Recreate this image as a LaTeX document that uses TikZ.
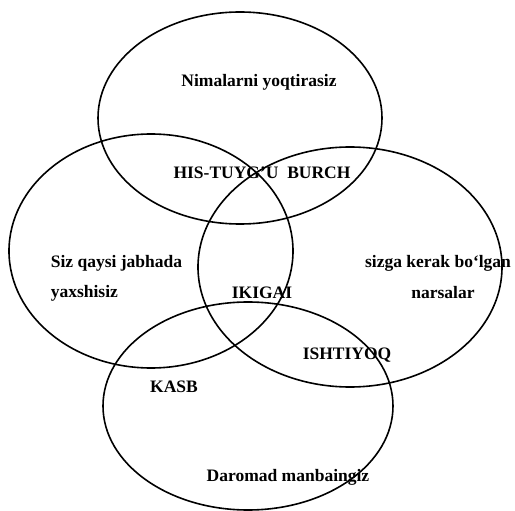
\documentclass[tikz,border=0pt]{standalone}
\usepackage{fontspec}
\setmainfont{Liberation Serif}
\begin{document}
\begin{tikzpicture}[x=1pt, y=-1pt, line width=1.6pt]
\tikzset{lbl/.style={font=\fontsize{17.5}{20}\selectfont\bfseries, inner sep=0pt}}
\useasboundingbox (0,0) rectangle (515,511);
% Centros de las elipses
\coordinate (T) at (240,118);
\coordinate (L) at (151,251);
\coordinate (R) at (350,267);
\coordinate (B) at (248,406);

% Elipses
\draw (T) ellipse [x radius=142, y radius=106];
\draw (L) ellipse [x radius=142, y radius=117];
\draw (R) ellipse [x radius=152, y radius=120];
\draw (B) ellipse [x radius=145, y radius=104];

% Etiquetas
\node[lbl] (yoq) at (259,82) {Nimalarni yoqtirasiz};
\node[lbl] (his) at (262,173) {HIS-TUYG'U\ \ BURCH};
\node[lbl, anchor=west] (siz) at (50,263) {Siz qaysi jabhada};
\node[lbl, anchor=west] (yax) at (50,293) {yaxshisiz};
\node[lbl] (iki) at (262,293) {IKIGAI};
\node[lbl] (ker) at (438,263) {sizga kerak bo‘lgan};
\node[lbl] (nar) at (443,293) {narsalar};
\node[lbl] (ish) at (347,355) {ISHTIYOQ};
\node[lbl] (kas) at (174,387) {KASB};
\node[lbl] (dar) at (288,477) {Daromad manbaingiz};
\end{tikzpicture}
\end{document}
